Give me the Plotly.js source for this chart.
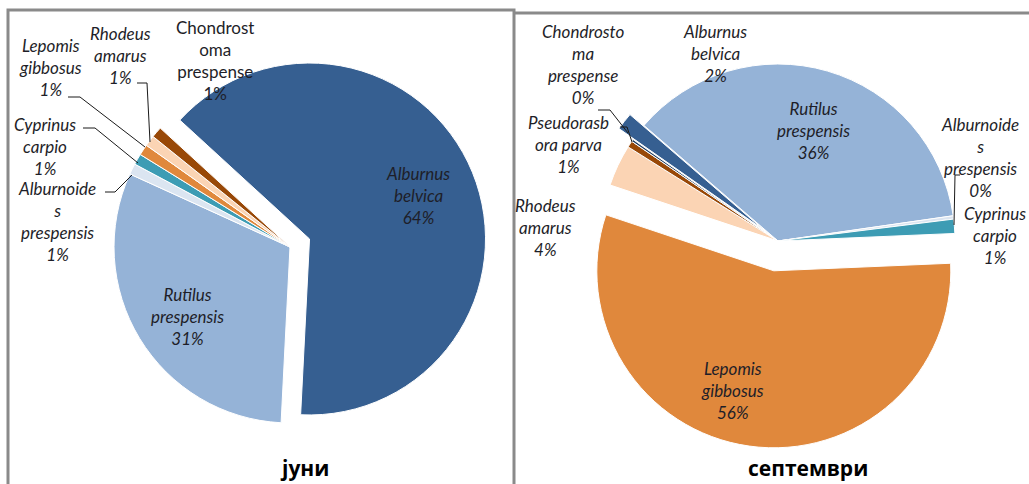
<!DOCTYPE html>
<html>
<head>
<meta charset="utf-8">
<script src="https://cdn.plot.ly/plotly-3.0.1.min.js"></script>
<style>html,body{margin:0;padding:0;background:#fff;}#chart{width:1029px;height:484px;}</style>
</head>
<body>
<div id="chart"></div>
<script>
// ---------- DATA ----------
const juneTitle = 'јуни';
const juneSpecies = ['Alburnus belvica','Rutilus prespensis','Alburnoides prespensis','Cyprinus carpio','Lepomis gibbosus','Rhodeus amarus','Chondrostoma prespense'];
const juneLabelNames = ['Alburnus<br>belvica','Rutilus<br>prespensis','Alburnoide<br>s<br>prespensis','Cyprinus<br>carpio','Lepomis<br>gibbosus','Rhodeus<br>amarus','Chondrost<br>oma<br>prespense'];
const junePercent = [64, 31, 1, 1, 1, 1, 1];

const septTitle = 'септември';
const septSpecies = ['Alburnus belvica','Rutilus prespensis','Alburnoides prespensis','Cyprinus carpio','Lepomis gibbosus','Rhodeus amarus','Pseudorasbora parva','Chondrostoma prespense'];
const septLabelNames = ['Alburnus<br>belvica','Rutilus<br>prespensis','Alburnoide<br>s<br>prespensis','Cyprinus<br>carpio','Lepomis<br>gibbosus','Rhodeus<br>amarus','Pseudorasb<br>ora parva','Chondrosto<br>ma<br>prespense'];
const septPercent = [1.6, 36.4, 0.3, 1.3, 55.8, 3.8, 0.6, 0.2];

// ---------- STYLE / LAYOUT ----------
const W = 1029, H = 484;
const juneColors = ['#365f91','#95b3d7','#dbe5f1','#3d9cb4','#e0883c','#fbd4b4','#984807'];
const septColors = ['#365f91','#95b3d7','#dbe5f1','#3d9cb4','#e0883c','#fbd4b4','#984807','#254061'];
const junePull = [0.12,0,0,0,0,0,0];
const septPull = [0.1,0,0,0,0.17,0,0,0];

function px(x){return x/W;}
function py(y){return 1-y/H;}

// label positions (pixel centers) and styles
const juneLabelPos = [[418,195],[187,316],[57,221],[45,146],[50,68],[120,55],[215,61]];
const juneItalic = [true,true,true,true,true,true,false];
const septLabelPos = [[715,53],[813,130],[980,157],[995,236],[732,390],[545,227],[568,144],[583,65]];
const septItalic = [true,true,true,true,true,true,true,true];

function pct(arr){const s=arr.reduce((a,b)=>a+b,0);return arr.map(v=>Math.round(v/s*100)+'%');}

const FONT = 'Lato, "Open Sans", sans-serif';
const annotations = [];
function addLabels(names, percents, pos, italic){
  const p = pct(percents);
  names.forEach((n,i)=>{
    let t = n + '<br>' + p[i];
    if(italic[i]) t = '<i>' + t + '</i>';
    annotations.push({xref:'paper',yref:'paper',x:px(pos[i][0]),y:py(pos[i][1]),text:t,showarrow:false,
      xanchor:'center',yanchor:'middle',align:'center',font:{family:FONT,size:17,color:'#1e1e28'}});
  });
}
addLabels(juneLabelNames, junePercent, juneLabelPos, juneItalic);
addLabels(septLabelNames, septPercent, septLabelPos, septItalic);
annotations.push({xref:'paper',yref:'paper',x:px(304),y:py(468),text:'<b>'+juneTitle+'</b>',showarrow:false,xanchor:'center',yanchor:'middle',font:{family:'"Open Sans", sans-serif',size:21,color:'#000'}});
annotations.push({xref:'paper',yref:'paper',x:px(808),y:py(468),text:'<b>'+septTitle+'</b>',showarrow:false,xanchor:'center',yanchor:'middle',font:{family:'"Open Sans", sans-serif',size:21,color:'#000'}});

function pathOf(pts){return 'M '+pts.map(p=>px(p[0])+','+py(p[1])).join(' L ');}
const leaders = [
  [[137,83],[147,83],[150,142]],
  [[68,97],[80,97],[145,147]],
  [[83,128],[95,128],[138,163]],
  [[105,192],[115,192],[132,175]],
  [[598,110],[610,110],[628,133]],
  [[620,127],[627,127],[632,142]],
  [[960,175],[955,175],[954,225]]
];
const shapes = leaders.map(l=>({type:'path',xref:'paper',yref:'paper',path:pathOf(l),line:{color:'#1a1a1a',width:1}}));
// frames
const frameCol = '#8a8a8a';
shapes.push({type:'path',xref:'paper',yref:'paper',path:pathOf([[8,490],[8,10],[514,10],[514,490]]),line:{color:frameCol,width:3}});
shapes.push({type:'path',xref:'paper',yref:'paper',path:pathOf([[515,13],[1035,13]]),line:{color:frameCol,width:3}});

const traces = [
  {type:'pie', labels:juneSpecies, values:junePercent, sort:false, direction:'clockwise', rotation:-47.5,
   pull:junePull, marker:{colors:juneColors, line:{color:'#ffffff', width:1}}, textinfo:'none', hoverinfo:'none',
   showlegend:false, domain:{x:[0.09028,0.47337], y:[0.08244,0.8969]}},
  {type:'pie', labels:septSpecies, values:septPercent, sort:false, direction:'clockwise', rotation:-55,
   pull:septPull, marker:{colors:septColors, line:{color:'#ffffff', width:1}}, textinfo:'none', hoverinfo:'none',
   showlegend:false, domain:{x:[0.55482,0.95733], y:[0.07419,0.92993]}}
];

const layout = {width:W, height:H, margin:{l:0,r:0,t:0,b:0}, paper_bgcolor:'#fff', plot_bgcolor:'#fff',
  showlegend:false, annotations:annotations, shapes:shapes};
Plotly.newPlot('chart', traces, layout, {staticPlot:true, displayModeBar:false});
</script>
</body>
</html>
